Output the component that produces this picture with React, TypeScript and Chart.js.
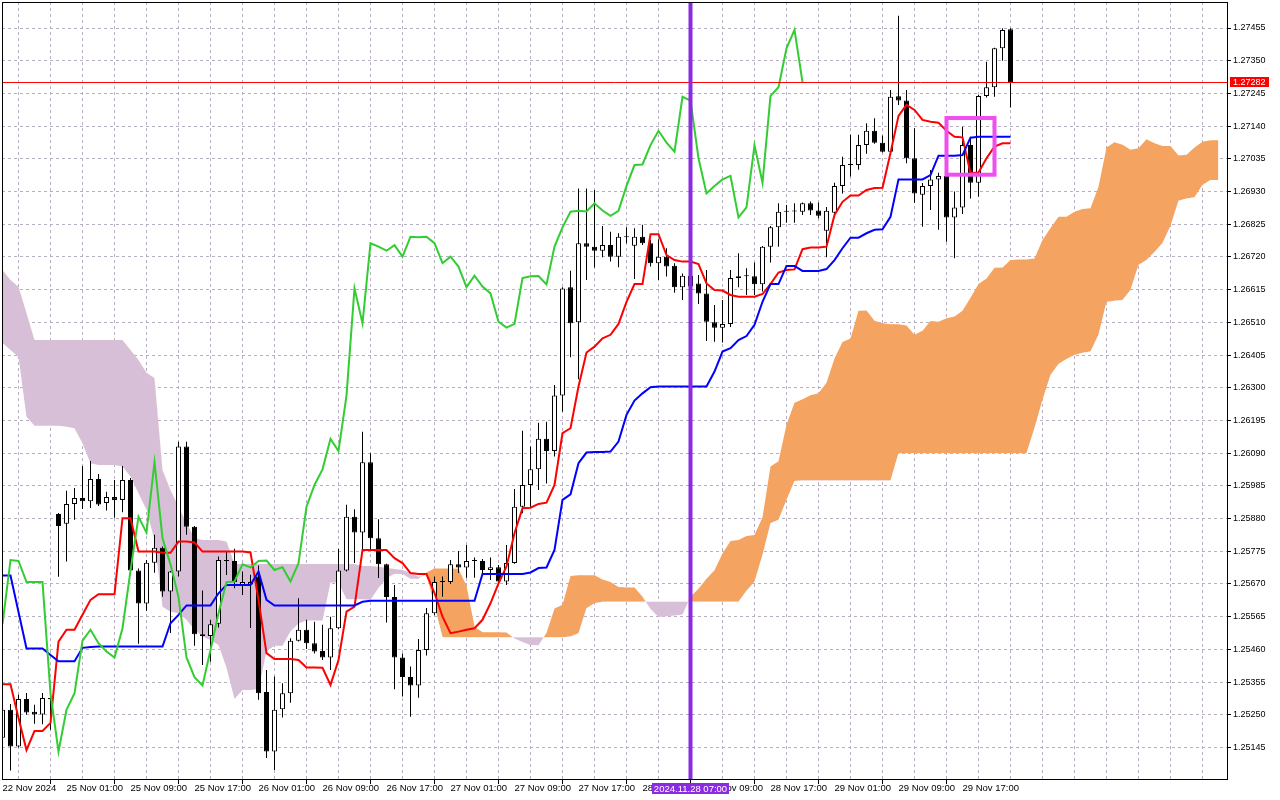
import React, { useEffect, useRef } from "react";
import { Chart, registerables } from "chart.js";

Chart.register(...registerables);

// GBPUSD H1, 22 Nov 2024 17:00 .. 29 Nov 2024 23:00 (127 bars)
const opens = [
  1.25176, 1.25266, 1.25148, 1.25301, 1.2526, 1.25251, 1.25304, 1.25895, 1.25863, 1.25927,
  1.25946, 1.25936, 1.26007, 1.2593, 1.25949, 1.2594, 1.26004, 1.25713, 1.25607, 1.25738,
  1.25786, 1.25646, 1.2571, 1.26111, 1.25854, 1.25509, 1.25503, 1.25542, 1.25747, 1.25744,
  1.25667, 1.25668, 1.25694, 1.25323, 1.25132, 1.25268, 1.25319, 1.25488, 1.25523, 1.2548,
  1.25455, 1.25434, 1.25528, 1.25713, 1.25886, 1.25835, 1.26061, 1.25817, 1.25733, 1.25628,
  1.25434, 1.25371, 1.25344, 1.25458, 1.25576, 1.25676, 1.25676, 1.25733, 1.25723, 1.25744,
  1.25744, 1.25715, 1.25724, 1.25678, 1.25737, 1.25918, 1.25988, 1.26038, 1.26136, 1.26097,
  1.26275, 1.26623, 1.2651, 1.26764, 1.26753, 1.2674, 1.26758, 1.26721, 1.26785, 1.26756,
  1.26785, 1.26764, 1.267, 1.26721, 1.26692, 1.26623, 1.2666, 1.26635, 1.26603, 1.2651,
  1.26493, 1.26505, 1.26652, 1.26658, 1.26658, 1.26632, 1.26753, 1.26815, 1.26865, 1.26868,
  1.26865, 1.26892, 1.26869, 1.26804, 1.26862, 1.26948, 1.27015, 1.27015, 1.27079, 1.27125,
  1.27087, 1.27058, 1.27236, 1.27222, 1.27037, 1.2692, 1.26948, 1.26969, 1.2698, 1.26847,
  1.26879, 1.27079, 1.26958, 1.27237, 1.27265, 1.2739, 1.27451,
];
const highs = [
  1.2528, 1.25285, 1.25314, 1.2532, 1.25282, 1.2532, 1.25318, 1.25898, 1.25969, 1.25978,
  1.26049, 1.26065, 1.26023, 1.25966, 1.26004, 1.26049, 1.2601, 1.2572, 1.25747, 1.25828,
  1.2579, 1.25712, 1.26127, 1.26127, 1.25856, 1.25649, 1.25555, 1.25758, 1.25774, 1.25783,
  1.2571, 1.257, 1.25729, 1.25394, 1.25373, 1.25351, 1.25496, 1.25624, 1.25555, 1.25549,
  1.25539, 1.25565, 1.25782, 1.25924, 1.2591, 1.26159, 1.2609, 1.25878, 1.25735, 1.25667,
  1.25447, 1.25405, 1.25493, 1.25593, 1.25694, 1.25694, 1.25747, 1.25776, 1.25795, 1.25755,
  1.2575, 1.25755, 1.25731, 1.25795, 1.25975, 1.26162, 1.26111, 1.26188, 1.26191, 1.26309,
  1.26623, 1.26676, 1.2694, 1.2694, 1.26935, 1.26819, 1.26801, 1.26796, 1.26815, 1.26812,
  1.26823, 1.26775, 1.26777, 1.26748, 1.267, 1.26667, 1.2668, 1.26662, 1.26678, 1.26566,
  1.26582, 1.26678, 1.26732, 1.26684, 1.26702, 1.26755, 1.26819, 1.26892, 1.26887, 1.26892,
  1.26895, 1.26898, 1.26895, 1.2688, 1.26958, 1.27042, 1.27112, 1.27112, 1.27149, 1.27165,
  1.2711, 1.27256, 1.27494, 1.27256, 1.27133, 1.26957, 1.26999, 1.2699, 1.27053, 1.2693,
  1.27138, 1.27106, 1.2724, 1.27347, 1.27392, 1.27454, 1.27454,
];
const lows = [
  1.2516, 1.25071, 1.25145, 1.2525, 1.25221, 1.2522, 1.25202, 1.25693, 1.25742, 1.25876,
  1.25911, 1.25914, 1.2592, 1.25906, 1.25883, 1.259, 1.25705, 1.25478, 1.25584, 1.25706,
  1.25629, 1.25513, 1.25694, 1.25828, 1.25472, 1.2541, 1.2542, 1.2553, 1.25699, 1.25656,
  1.25635, 1.25529, 1.25298, 1.25111, 1.25073, 1.25241, 1.25289, 1.25485, 1.25461, 1.25447,
  1.25426, 1.25394, 1.25525, 1.2571, 1.25737, 1.25779, 1.25779, 1.25689, 1.25546, 1.25332,
  1.25309, 1.25244, 1.25305, 1.2544, 1.2557, 1.25629, 1.2567, 1.25705, 1.2569, 1.2569,
  1.25699, 1.25683, 1.25667, 1.25667, 1.25735, 1.25897, 1.25918, 1.25972, 1.25993, 1.26079,
  1.26223, 1.26398, 1.26327, 1.26646, 1.26686, 1.26719, 1.26705, 1.26687, 1.26764, 1.26649,
  1.26758, 1.26689, 1.26646, 1.26657, 1.26605, 1.26582, 1.266, 1.26569, 1.2645, 1.26448,
  1.26445, 1.26495, 1.26623, 1.26598, 1.26598, 1.26609, 1.26702, 1.26753, 1.2683, 1.2683,
  1.26855, 1.26855, 1.26844, 1.26719, 1.2685, 1.26924, 1.26978, 1.27, 1.27051, 1.27083,
  1.27055, 1.27048, 1.27208, 1.27021, 1.26894, 1.26817, 1.26871, 1.26807, 1.26769, 1.26716,
  1.26858, 1.26908, 1.26913, 1.27232, 1.27234, 1.2735, 1.272,
];
const closes = [
  1.25266, 1.25148, 1.25301, 1.25257, 1.25251, 1.25304, 1.253, 1.25856, 1.25927, 1.25946,
  1.25936, 1.26007, 1.25925, 1.25949, 1.2594, 1.26004, 1.25713, 1.25607, 1.25738, 1.25786,
  1.25646, 1.2571, 1.26111, 1.25854, 1.25509, 1.25503, 1.25541, 1.25747, 1.25744, 1.25676,
  1.25676, 1.25676, 1.25319, 1.25132, 1.25266, 1.25319, 1.25488, 1.25523, 1.2548, 1.25453,
  1.25434, 1.25528, 1.25713, 1.25886, 1.25835, 1.26061, 1.25817, 1.25733, 1.25628, 1.25434,
  1.25371, 1.25344, 1.25458, 1.25576, 1.25676, 1.25678, 1.25733, 1.25723, 1.25744, 1.25745,
  1.25715, 1.25724, 1.25678, 1.25737, 1.25918, 1.25988, 1.26038, 1.26136, 1.26097, 1.26275,
  1.26619, 1.26507, 1.26764, 1.26753, 1.2674, 1.26758, 1.26721, 1.26785, 1.26783, 1.26785,
  1.26764, 1.267, 1.26721, 1.26689, 1.26623, 1.2666, 1.26625, 1.26603, 1.26512, 1.26493,
  1.26505, 1.26652, 1.26658, 1.26659, 1.26632, 1.26753, 1.26815, 1.26865, 1.26868, 1.26866,
  1.26892, 1.26869, 1.26852, 1.26868, 1.26948, 1.27015, 1.27017, 1.27079, 1.27125, 1.27087,
  1.27058, 1.27234, 1.27222, 1.27037, 1.26924, 1.26948, 1.26969, 1.2698, 1.26847, 1.26879,
  1.27079, 1.26958, 1.27237, 1.27265, 1.2739, 1.27449, 1.27281,
];

// Ichimoku lines as shown on the chart
const tenkan = [
  1.25348, 1.25348, 1.2524, 1.25137, 1.25198, 1.25198, 1.25224, 1.25485, 1.25523, 1.25523,
  1.25571, 1.25619, 1.25637, 1.25637, 1.25637, 1.25881, 1.25881, 1.25774, 1.25774, 1.25774,
  1.2577, 1.2577, 1.25806, 1.25806, 1.25803, 1.25774, 1.25774, 1.25774, 1.25774, 1.25774,
  1.25774, 1.25771, 1.25619, 1.25448, 1.25429, 1.25429, 1.25429, 1.25426, 1.25402, 1.25402,
  1.25401, 1.25346, 1.25426, 1.25581, 1.25597, 1.25779, 1.25779, 1.25779, 1.25779, 1.25753,
  1.25737, 1.25705, 1.25702, 1.25702, 1.25641, 1.25565, 1.25512, 1.25517, 1.25523, 1.25528,
  1.25555, 1.25608, 1.25672, 1.25726, 1.25833, 1.25913, 1.25915, 1.25927, 1.25931, 1.25988,
  1.26154, 1.2617, 1.26304, 1.26413, 1.26432, 1.26459, 1.2647, 1.26505, 1.26576, 1.26633,
  1.26633, 1.26793, 1.26793, 1.26726, 1.2671, 1.26705, 1.26705, 1.26697, 1.26635, 1.26614,
  1.26612, 1.26598, 1.26592, 1.26592, 1.26592, 1.26601, 1.26633, 1.2667, 1.26678, 1.2668,
  1.26745, 1.2675, 1.2675, 1.26753, 1.26855, 1.26897, 1.26917, 1.26917, 1.26935, 1.26941,
  1.26942, 1.27054, 1.27173, 1.27208, 1.27192, 1.2716, 1.27154, 1.27151, 1.27125, 1.27106,
  1.27104, 1.26989, 1.26991, 1.27037, 1.27074, 1.27085, 1.27085,
];
const kijun = [
  1.25697, 1.25697, 1.2558, 1.25463, 1.25463, 1.25463, 1.25442, 1.25422, 1.25422, 1.25422,
  1.25465, 1.25468, 1.25469, 1.25469, 1.25469, 1.25469, 1.25469, 1.25469, 1.25469, 1.25469,
  1.25469, 1.25544, 1.25571, 1.25601, 1.25601, 1.25601, 1.25601, 1.2564, 1.25667, 1.25667,
  1.25667, 1.25667, 1.2571, 1.25619, 1.25601, 1.25601, 1.25601, 1.25601, 1.25601, 1.25601,
  1.25601, 1.25601, 1.25601, 1.25601, 1.25601, 1.25613, 1.25616, 1.25616, 1.25616, 1.25616,
  1.25616, 1.25616, 1.25616, 1.25616, 1.25616, 1.25616, 1.25616, 1.25616, 1.25616, 1.25616,
  1.25702, 1.25702, 1.25702, 1.25702, 1.25702, 1.25702, 1.25707, 1.25721, 1.25723, 1.25779,
  1.2594, 1.25958, 1.26058, 1.26092, 1.26094, 1.26094, 1.26095, 1.26127, 1.26213, 1.26259,
  1.26282, 1.26302, 1.26304, 1.26304, 1.26304, 1.26304, 1.26304, 1.26304, 1.26304, 1.26352,
  1.26416, 1.26427, 1.26453, 1.26466, 1.26502, 1.26576, 1.26633, 1.26633, 1.26691, 1.26691,
  1.26675, 1.26675, 1.26675, 1.26681, 1.2671, 1.26748, 1.26782, 1.26782, 1.26796, 1.26807,
  1.26809, 1.26849, 1.26969, 1.26969, 1.26969, 1.26969, 1.26983, 1.27045, 1.27045, 1.27045,
  1.27047, 1.27103, 1.27106, 1.27106, 1.27106, 1.27106, 1.27106,
];
// cloud, runs 26 bars past the last candle (153 points)
const spanA = [
  1.26444, 1.26421, 1.26399, 1.26207, 1.26178, 1.26178, 1.26178, 1.26178, 1.26175, 1.2617,
  1.26122, 1.26058, 1.26052, 1.26052, 1.26052, 1.26047, 1.26015, 1.25961, 1.25908, 1.25811,
  1.25597, 1.25581, 1.25576, 1.25555, 1.25523, 1.25501, 1.2549, 1.25474, 1.25401, 1.25301,
  1.2533, 1.2533, 1.25333, 1.25454, 1.25472, 1.25472, 1.25518, 1.25543, 1.25553, 1.25553,
  1.25553, 1.25675, 1.25675, 1.25621, 1.25621, 1.25621, 1.25619, 1.25657, 1.25688, 1.25703,
  1.25702, 1.25687, 1.25687, 1.25707, 1.2572, 1.2572, 1.2572, 1.25719, 1.25664, 1.25533,
  1.25515, 1.25515, 1.25515, 1.25514, 1.25495, 1.25484, 1.25474, 1.25473, 1.25513, 1.25591,
  1.25603, 1.25696, 1.25698, 1.25698, 1.25698, 1.25684, 1.25676, 1.2566, 1.25659, 1.25659,
  1.25629, 1.2559, 1.25564, 1.25566, 1.25569, 1.25572, 1.25629, 1.25655, 1.25687, 1.25714,
  1.25768, 1.25808, 1.25811, 1.25824, 1.25827, 1.25884, 1.26047, 1.26064, 1.26181, 1.26252,
  1.26263, 1.26276, 1.26282, 1.26316, 1.26394, 1.26447, 1.26458, 1.26547, 1.26548, 1.26515,
  1.26507, 1.26504, 1.26504, 1.265, 1.2647, 1.26483, 1.26514, 1.26512, 1.26523, 1.26529,
  1.26547, 1.26589, 1.26633, 1.26651, 1.26685, 1.26686, 1.2671, 1.26712, 1.26712, 1.26715,
  1.26774, 1.26813, 1.26849, 1.26849, 1.26865, 1.26874, 1.26876, 1.26945, 1.27071, 1.27088,
  1.2708, 1.27064, 1.27069, 1.27098, 1.27085, 1.27076, 1.27076, 1.27046, 1.27048, 1.27071,
  1.2709, 1.27095, 1.27095,
];
const spanB = [
  1.26678, 1.26646, 1.26624, 1.2654, 1.26453, 1.26453, 1.26453, 1.26453, 1.26453, 1.26453,
  1.26453, 1.26453, 1.26453, 1.26453, 1.26453, 1.26453, 1.26421, 1.26389, 1.26348, 1.26331,
  1.26036, 1.25972, 1.25918, 1.25865, 1.25818, 1.25811, 1.25811, 1.25811, 1.25806, 1.25734,
  1.25734, 1.25734, 1.25734, 1.25734, 1.25734, 1.25734, 1.25734, 1.25734, 1.25734, 1.25734,
  1.25734, 1.25734, 1.25734, 1.25734, 1.25734, 1.25728, 1.25728, 1.25725, 1.25722, 1.25718,
  1.25715, 1.25706, 1.25693, 1.25699, 1.256, 1.25499, 1.25499, 1.25499, 1.25499, 1.25499,
  1.25499, 1.25499, 1.25499, 1.25499, 1.25499, 1.25499, 1.25499, 1.25499, 1.25499, 1.25499,
  1.25499, 1.25501, 1.25512, 1.25592, 1.25608, 1.25613, 1.25613, 1.25613, 1.25613, 1.25613,
  1.25613, 1.25613, 1.25613, 1.25613, 1.25613, 1.25613, 1.25613, 1.25613, 1.25613, 1.25613,
  1.25613, 1.25613, 1.25613, 1.25648, 1.25677, 1.25763, 1.25865, 1.25876, 1.2594, 1.26001,
  1.26002, 1.26002, 1.26002, 1.26002, 1.26002, 1.26002, 1.26002, 1.26002, 1.26002, 1.26002,
  1.26002, 1.26002, 1.2609, 1.2609, 1.2609, 1.2609, 1.2609, 1.2609, 1.2609, 1.2609,
  1.2609, 1.2609, 1.2609, 1.2609, 1.2609, 1.2609, 1.2609, 1.2609, 1.2609, 1.26171,
  1.26261, 1.26341, 1.26376, 1.26392, 1.26405, 1.26412, 1.26416, 1.2647, 1.26575, 1.26579,
  1.26582, 1.26614, 1.26694, 1.2671, 1.26736, 1.26765, 1.26819, 1.269, 1.26908, 1.26912,
  1.26951, 1.26967, 1.26967,
];
const chikouShift = 26;

const priceTicks = [
  1.25145, 1.2525, 1.25355, 1.2546, 1.25565, 1.2567, 1.25775, 1.2588, 1.25985, 1.2609,
  1.26195, 1.263, 1.26405, 1.2651, 1.26615, 1.2672, 1.26825, 1.2693, 1.27035, 1.2714,
  1.27245, 1.2735, 1.27455,
];
// one label every 8 bars, grid every 4 bars
const timeLabels = [
  "22 Nov 2024", "25 Nov 01:00", "25 Nov 09:00", "25 Nov 17:00", "26 Nov 01:00",
  "26 Nov 09:00", "26 Nov 17:00", "27 Nov 01:00", "27 Nov 09:00", "27 Nov 17:00",
  "28 Nov 01:00", "28 Nov 09:00", "28 Nov 17:00", "29 Nov 01:00", "29 Nov 09:00",
  "29 Nov 17:00",
];
const labelStep = 8;
const gridStep = 4;

const bidPrice = 1.27282;
const markerBar = 86;
const markerLabel = "2024.11.28 07:00";
const boxBars = [118, 124];
const boxPrices = [1.26984, 1.27166];

const FONT = "'Liberation Sans', Arial, sans-serif";

const overlays = {
  id: "overlays",
  afterDatasetsDraw(chart: any) {
    const { ctx, chartArea: a, scales } = chart;
    const xs = scales.x;
    const ys = scales.y;
    ctx.save();
    ctx.beginPath();
    ctx.rect(a.left, a.top, a.right - a.left, a.bottom - a.top);
    ctx.clip();

    // bid line
    const by = Math.round(ys.getPixelForValue(bidPrice)) + 0.5;
    ctx.strokeStyle = "#ff0000";
    ctx.lineWidth = 1;
    ctx.beginPath();
    ctx.moveTo(a.left, by);
    ctx.lineTo(a.right, by);
    ctx.stroke();

    // vertical marker
    const mx = xs.getPixelForValue(markerBar);
    ctx.strokeStyle = "#8a2be2";
    ctx.lineWidth = 4;
    ctx.beginPath();
    ctx.moveTo(mx, a.top);
    ctx.lineTo(mx, a.bottom);
    ctx.stroke();

    // rectangle
    const x0 = xs.getPixelForValue(boxBars[0]);
    const x1 = xs.getPixelForValue(boxBars[1]);
    const y0 = ys.getPixelForValue(boxPrices[1]);
    const y1 = ys.getPixelForValue(boxPrices[0]);
    ctx.strokeStyle = "#f04ff0";
    ctx.lineWidth = 4;
    ctx.strokeRect(x0, y0, x1 - x0, y1 - y0);
    ctx.restore();
  },
  afterDraw(chart: any) {
    const { ctx, chartArea: a, scales } = chart;
    const xs = scales.x;
    const ys = scales.y;
    ctx.save();

    // frame
    ctx.strokeStyle = "#000";
    ctx.lineWidth = 1;
    ctx.strokeRect(a.left + 0.5, a.top + 0.5, a.right - a.left, a.bottom - a.top);

    // bid label
    const by = Math.round(ys.getPixelForValue(bidPrice));
    ctx.fillStyle = "#ff0000";
    ctx.fillRect(a.right + 3, by - 5, 39, 10);
    ctx.fillStyle = "#fff";
    ctx.font = `9px ${FONT}`;
    ctx.textAlign = "left";
    ctx.textBaseline = "middle";
    ctx.fillText(bidPrice.toFixed(5), a.right + 6, by + 0.5);

    // marker time label
    const mx = xs.getPixelForValue(markerBar);
    ctx.fillStyle = "#8a2be2";
    ctx.fillRect(mx - 38.5, a.bottom + 4, 77, 11);
    ctx.fillStyle = "#fff";
    ctx.font = `9.5px ${FONT}`;
    ctx.textAlign = "center";
    ctx.fillText(markerLabel, mx, a.bottom + 10);
    ctx.restore();
  },
};

const App: React.FC = () => {
  const canvasRef = useRef<HTMLCanvasElement>(null!);

  useEffect(() => {
    const canvas = canvasRef.current;
    Chart.getChart(canvas)?.destroy();

    const bars = closes.map((_, i) => i);
    const chart = new Chart(canvas, {
      type: "line",
      data: {
        datasets: [
          {
            type: "line",
            data: spanA.map((v, i) => ({ x: i, y: v })),
            borderWidth: 0,
            pointRadius: 0,
            tension: 0,
            fill: { target: 1, above: "#f4a460", below: "#d8bfd8" },
            order: 10,
          },
          {
            type: "line",
            data: spanB.map((v, i) => ({ x: i, y: v })),
            borderWidth: 0,
            pointRadius: 0,
            tension: 0,
            fill: false,
            order: 10,
          },
          {
            type: "bar",
            data: bars.map((i) => ({ x: i, y: [lows[i], highs[i]] })),
            backgroundColor: "#000",
            borderWidth: 0,
            barThickness: 1,
            grouped: false,
            inflateAmount: 0,
            order: 6,
          },
          {
            type: "bar",
            data: bars.map((i) => ({ x: i, y: [opens[i], closes[i]] })),
            backgroundColor: bars.map((i) => (closes[i] >= opens[i] ? "#fff" : "#000")),
            borderColor: "#000",
            borderWidth: 1,
            borderSkipped: false,
            barThickness: 5,
            minBarLength: 1,
            grouped: false,
            inflateAmount: 0,
            order: 5,
          },
          {
            type: "line",
            data: tenkan.map((v, i) => ({ x: i, y: v })),
            borderColor: "#ff0000",
            borderWidth: 2,
            pointRadius: 0,
            tension: 0,
            fill: false,
            order: 3,
          },
          {
            type: "line",
            data: kijun.map((v, i) => ({ x: i, y: v })),
            borderColor: "#0000ff",
            borderWidth: 2,
            pointRadius: 0,
            tension: 0,
            fill: false,
            order: 2,
          },
          {
            type: "line",
            data: closes.slice(chikouShift).map((v, i) => ({ x: i, y: v })),
            borderColor: "#32cd32",
            borderWidth: 2,
            pointRadius: 0,
            tension: 0,
            fill: false,
            order: 1,
          },
        ] as any,
      },
      options: {
        animation: false,
        responsive: false,
        devicePixelRatio: 1,
        events: [],
        layout: { padding: { left: 2, top: 2, right: 0, bottom: 0 } },
        plugins: { legend: { display: false }, tooltip: { enabled: false } },
        scales: {
          x: {
            type: "linear",
            min: -0.0625,
            max: 153.0625,
            offset: false,
            afterBuildTicks: (scale: any) => {
              const t = [];
              for (let v = 0; v <= spanA.length - 1; v += gridStep) t.push({ value: v });
              scale.ticks = t;
            },
            afterFit: (scale: any) => {
              scale.height = 21;
              scale.paddingLeft = 0;
              scale.paddingRight = 0;
            },
            ticks: {
              autoSkip: false,
              maxRotation: 0,
              minRotation: 0,
              align: "start",
              padding: 0,
              color: "#000",
              font: { family: FONT, size: 9.5, lineHeight: 1 },
              callback: (value: any) => {
                const k = Number(value) / labelStep;
                return Number.isInteger(k) && k < timeLabels.length ? timeLabels[k] : "";
              },
            },
            grid: {
              color: "rgba(176,166,186,0.9)",
              lineWidth: 1,
              tickLength: 5,
              tickColor: (c: any) => {
                const v = c.tick ? c.tick.value : -1;
                return v % labelStep === 0 && v / labelStep < timeLabels.length ? "#000" : "rgba(0,0,0,0)";
              },
            },
            border: { display: false, dash: [3, 3] },
          },
          y: {
            type: "linear",
            position: "right",
            min: 1.2504387,
            max: 1.275385,
            afterBuildTicks: (scale: any) => {
              scale.ticks = priceTicks.map((v) => ({ value: v }));
            },
            afterFit: (scale: any) => {
              scale.width = 53;
              scale.paddingTop = 0;
              scale.paddingBottom = 0;
            },
            ticks: {
              autoSkip: false,
              padding: 2,
              color: "#000",
              font: { family: FONT, size: 9 },
              callback: (value: any) => Number(value).toFixed(5),
            },
            grid: {
              color: "rgba(176,166,186,0.9)",
              lineWidth: 1,
              tickLength: 4,
              tickColor: "#000",
            },
            border: { display: false, dash: [3, 3] },
          },
        },
      },
      plugins: [overlays],
    });

    return () => {
      chart.destroy();
    };
  }, []);

  return (
    <div style={{ position: "absolute", left: 0, top: 0, width: 1280, height: 800, background: "#fff" }}>
      <canvas ref={canvasRef} width={1280} height={800} />
    </div>
  );
};

export default App;
